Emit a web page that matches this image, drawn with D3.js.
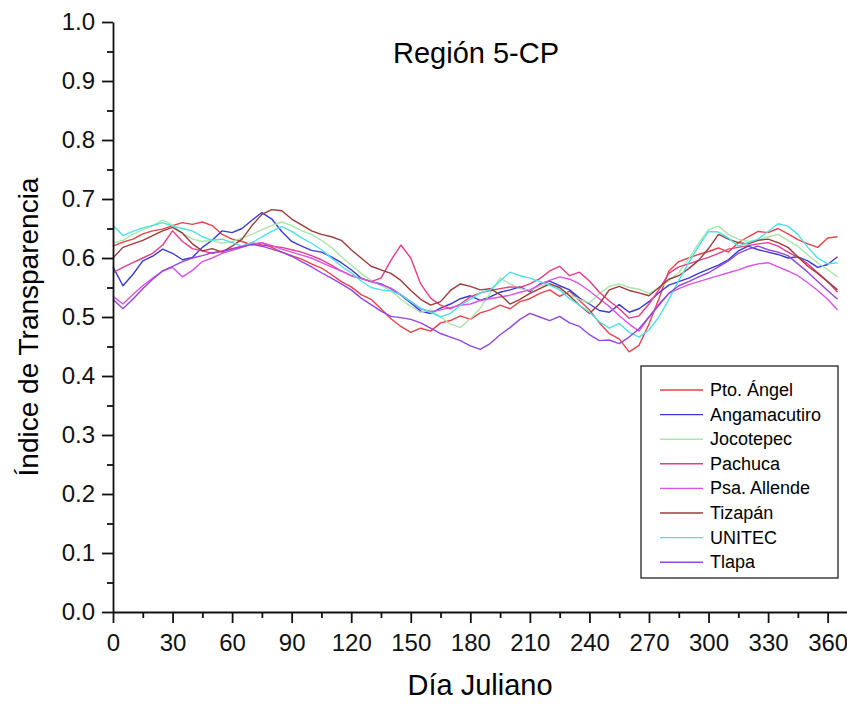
<!DOCTYPE html>
<head>
  <meta charset="utf-8">
  <script src="https://d3js.org/d3.v7.min.js"></script>
  <style>
  body,html {background:white; margin:0; font-family:"Liberation Sans", Arial, sans-serif;}
  .axis path, .axis line {stroke:#111; stroke-width:1.8px;}
  .axis text {font-size:24px; fill:#111; font-family:"Liberation Sans", Arial, sans-serif;}
</style>
</head>

<body>
<svg id="chart"></svg>

<script>

  const width = 847;
  const height = 704;

  // day of year (every 5 days)
  const days = [0,5,10,15,20,25,30,35,40,45,50,55,60,65,70,75,80,85,90,95,100,105,110,115,120,125,130,135,140,145,150,155,160,165,170,175,180,185,190,195,200,205,210,215,220,225,230,235,240,245,250,255,260,265,270,275,280,285,290,295,300,305,310,315,320,325,330,335,340,345,350,355,360,365];

  const names = ["Pto. Ángel","Angamacutiro","Jocotepec","Pachuca","Psa. Allende","Tizapán","UNITEC","Tlapa"];
  const colors = ["#e8424a","#3a3ad6","#a9e6a9","#e63c88","#dc52e6","#9c3b3b","#4ae2e8","#9446de"];

  const ptoAngel = [0.620,0.627,0.632,0.641,0.646,0.649,0.655,0.660,0.657,0.661,0.655,0.640,0.632,0.628,0.622,0.626,0.618,0.610,0.604,0.598,0.590,0.583,0.572,0.560,0.551,0.538,0.530,0.514,0.497,0.484,0.474,0.481,0.476,0.490,0.494,0.502,0.496,0.507,0.512,0.520,0.514,0.526,0.531,0.540,0.546,0.535,0.544,0.528,0.512,0.490,0.472,0.463,0.441,0.452,0.488,0.531,0.578,0.594,0.600,0.606,0.611,0.617,0.610,0.626,0.636,0.645,0.643,0.650,0.641,0.631,0.624,0.618,0.634,0.636];
  const angamacutiro = [0.585,0.553,0.572,0.595,0.603,0.615,0.608,0.597,0.601,0.618,0.630,0.646,0.643,0.650,0.664,0.677,0.666,0.645,0.628,0.620,0.613,0.610,0.602,0.592,0.580,0.566,0.560,0.556,0.548,0.537,0.524,0.510,0.506,0.515,0.522,0.531,0.536,0.528,0.534,0.542,0.546,0.551,0.543,0.556,0.561,0.553,0.546,0.532,0.522,0.511,0.508,0.521,0.508,0.514,0.526,0.541,0.554,0.560,0.566,0.574,0.581,0.588,0.597,0.612,0.620,0.614,0.610,0.606,0.600,0.602,0.595,0.584,0.589,0.602];
  const jocotepec = [0.625,0.630,0.640,0.648,0.655,0.664,0.656,0.642,0.632,0.628,0.630,0.625,0.628,0.634,0.640,0.648,0.655,0.661,0.655,0.646,0.640,0.630,0.618,0.602,0.588,0.574,0.562,0.553,0.545,0.530,0.518,0.508,0.512,0.500,0.488,0.482,0.497,0.515,0.540,0.566,0.556,0.548,0.545,0.552,0.557,0.548,0.538,0.530,0.524,0.540,0.552,0.556,0.550,0.547,0.540,0.548,0.562,0.575,0.598,0.625,0.648,0.654,0.640,0.632,0.628,0.630,0.636,0.640,0.630,0.620,0.605,0.592,0.580,0.568];
  const pachuca = [0.575,0.584,0.592,0.600,0.608,0.622,0.646,0.628,0.616,0.612,0.608,0.612,0.616,0.620,0.626,0.622,0.620,0.618,0.614,0.610,0.604,0.597,0.588,0.578,0.570,0.565,0.560,0.566,0.596,0.622,0.600,0.556,0.532,0.520,0.514,0.522,0.534,0.541,0.545,0.548,0.551,0.550,0.556,0.565,0.578,0.586,0.570,0.576,0.561,0.542,0.527,0.514,0.498,0.502,0.522,0.546,0.574,0.585,0.590,0.596,0.601,0.608,0.615,0.618,0.621,0.624,0.626,0.620,0.610,0.601,0.590,0.575,0.560,0.542];
  const psaAllende = [0.535,0.522,0.538,0.553,0.566,0.578,0.584,0.568,0.579,0.594,0.600,0.608,0.613,0.618,0.624,0.626,0.621,0.615,0.610,0.605,0.600,0.592,0.585,0.578,0.570,0.566,0.560,0.555,0.549,0.538,0.526,0.514,0.509,0.512,0.516,0.520,0.522,0.528,0.531,0.534,0.537,0.542,0.546,0.555,0.562,0.568,0.564,0.556,0.544,0.531,0.518,0.502,0.488,0.476,0.500,0.522,0.540,0.548,0.555,0.560,0.565,0.570,0.575,0.580,0.586,0.590,0.592,0.585,0.578,0.570,0.558,0.545,0.530,0.512];
  const tizapan = [0.600,0.618,0.624,0.630,0.638,0.646,0.652,0.642,0.624,0.612,0.616,0.610,0.620,0.632,0.655,0.674,0.682,0.680,0.666,0.656,0.646,0.640,0.636,0.630,0.614,0.600,0.586,0.580,0.574,0.562,0.545,0.530,0.520,0.526,0.545,0.556,0.552,0.546,0.548,0.538,0.522,0.530,0.540,0.548,0.556,0.550,0.536,0.520,0.506,0.522,0.546,0.552,0.545,0.541,0.536,0.550,0.564,0.570,0.582,0.596,0.616,0.640,0.632,0.626,0.624,0.630,0.632,0.626,0.618,0.602,0.586,0.574,0.560,0.546];
  const unitec = [0.655,0.638,0.645,0.651,0.655,0.660,0.654,0.650,0.646,0.636,0.630,0.632,0.626,0.620,0.626,0.636,0.645,0.653,0.645,0.634,0.625,0.614,0.600,0.586,0.575,0.561,0.550,0.546,0.544,0.538,0.526,0.515,0.508,0.500,0.506,0.520,0.530,0.541,0.546,0.561,0.576,0.570,0.566,0.560,0.554,0.546,0.531,0.520,0.508,0.492,0.481,0.489,0.474,0.466,0.478,0.500,0.530,0.562,0.592,0.620,0.645,0.644,0.634,0.620,0.626,0.632,0.645,0.658,0.654,0.640,0.618,0.600,0.590,0.592];
  const tlapa = [0.530,0.514,0.530,0.548,0.564,0.578,0.586,0.594,0.600,0.604,0.609,0.611,0.615,0.619,0.623,0.620,0.615,0.610,0.603,0.594,0.585,0.575,0.566,0.556,0.546,0.532,0.521,0.510,0.501,0.499,0.496,0.490,0.481,0.472,0.466,0.460,0.451,0.445,0.455,0.470,0.482,0.496,0.506,0.500,0.494,0.501,0.490,0.484,0.470,0.460,0.461,0.455,0.466,0.480,0.500,0.520,0.540,0.553,0.560,0.568,0.575,0.585,0.595,0.608,0.615,0.620,0.614,0.610,0.604,0.590,0.576,0.560,0.545,0.530];

  const seriesValues = [ptoAngel, angamacutiro, jocotepec, pachuca, psaAllende, tizapan, unitec, tlapa];

  const xTicks = [0,30,60,90,120,150,180,210,240,270,300,330,360];
  const xMinor = [15,45,75,105,135,165,195,225,255,285,315,345];
  const yTicks = [0,0.1,0.2,0.3,0.4,0.5,0.6,0.7,0.8,0.9,1.0];
  const yMinor = [0.05,0.15,0.25,0.35,0.45,0.55,0.65,0.75,0.85,0.95];

  const margin = {left:113, top:22, bottom:92};

  let x = d3.scaleLinear().domain([0,370]).range([margin.left, 847.5]);
  let y = d3.scaleLinear().domain([0,1]).range([height - margin.bottom, margin.top]);

  let svg = d3.select("#chart")
    .attr("width", width)
    .attr("height", height);

  // lines
  let line = d3.line()
    .x((d,i)=>x(days[i]))
    .y(d=>y(d));

  svg.selectAll(".series")
    .data(seriesValues)
    .enter()
    .append("path")
    .attr("class","series")
    .attr("d", d=>line(d))
    .attr("fill","none")
    .attr("stroke",(d,i)=>colors[i])
    .attr("stroke-width",1.4)
    .attr("stroke-linejoin","round");

  // minor ticks
  svg.append("g")
    .attr("class","axis")
    .attr("transform",`translate(0,${y(0)})`)
    .call(d3.axisBottom(x).tickValues(xMinor).tickSize(6).tickFormat(""))
    .select(".domain").remove();

  svg.append("g")
    .attr("class","axis")
    .attr("transform",`translate(${margin.left},0)`)
    .call(d3.axisLeft(y).tickValues(yMinor).tickSize(6).tickFormat(""))
    .select(".domain").remove();

  // major axes
  svg.append("g")
    .attr("class","axis")
    .attr("transform",`translate(0,${y(0)})`)
    .call(d3.axisBottom(x).tickValues(xTicks).tickSize(11).tickSizeOuter(0).tickPadding(11).tickFormat(d3.format("d")));

  svg.append("g")
    .attr("class","axis")
    .attr("transform",`translate(${margin.left},0)`)
    .call(d3.axisLeft(y).tickValues(yTicks).tickSize(11).tickSizeOuter(0).tickPadding(7).tickFormat(d3.format(".1f")));

  // titles
  svg.append("text")
    .attr("x",476).attr("y",63)
    .attr("text-anchor","middle")
    .style("font-size","29px")
    .text("Región 5-CP");

  svg.append("text")
    .attr("x",480).attr("y",695)
    .attr("text-anchor","middle")
    .style("font-size","29px")
    .text("Día Juliano");

  svg.append("text")
    .attr("transform","translate(38,327) rotate(-90)")
    .attr("text-anchor","middle")
    .style("font-size","28px")
    .text("Índice de Transparencia");

  // legend
  let legend = svg.append("g").attr("transform","translate(641,366)");
  legend.append("rect")
    .attr("width",197).attr("height",212)
    .attr("fill","white").attr("stroke","#333").attr("stroke-width",1.4);

  let items = legend.selectAll(".item")
    .data(names)
    .enter()
    .append("g")
    .attr("class","item")
    .attr("transform",(d,i)=>`translate(0,${24 + i*24.6})`);

  items.append("line")
    .attr("x1",19).attr("x2",62)
    .attr("stroke",(d,i)=>colors[i])
    .attr("stroke-width",1.4);

  items.append("text")
    .attr("x",69).attr("y",6)
    .style("font-size","18px")
    .text(d=>d);

</script>
</body>
